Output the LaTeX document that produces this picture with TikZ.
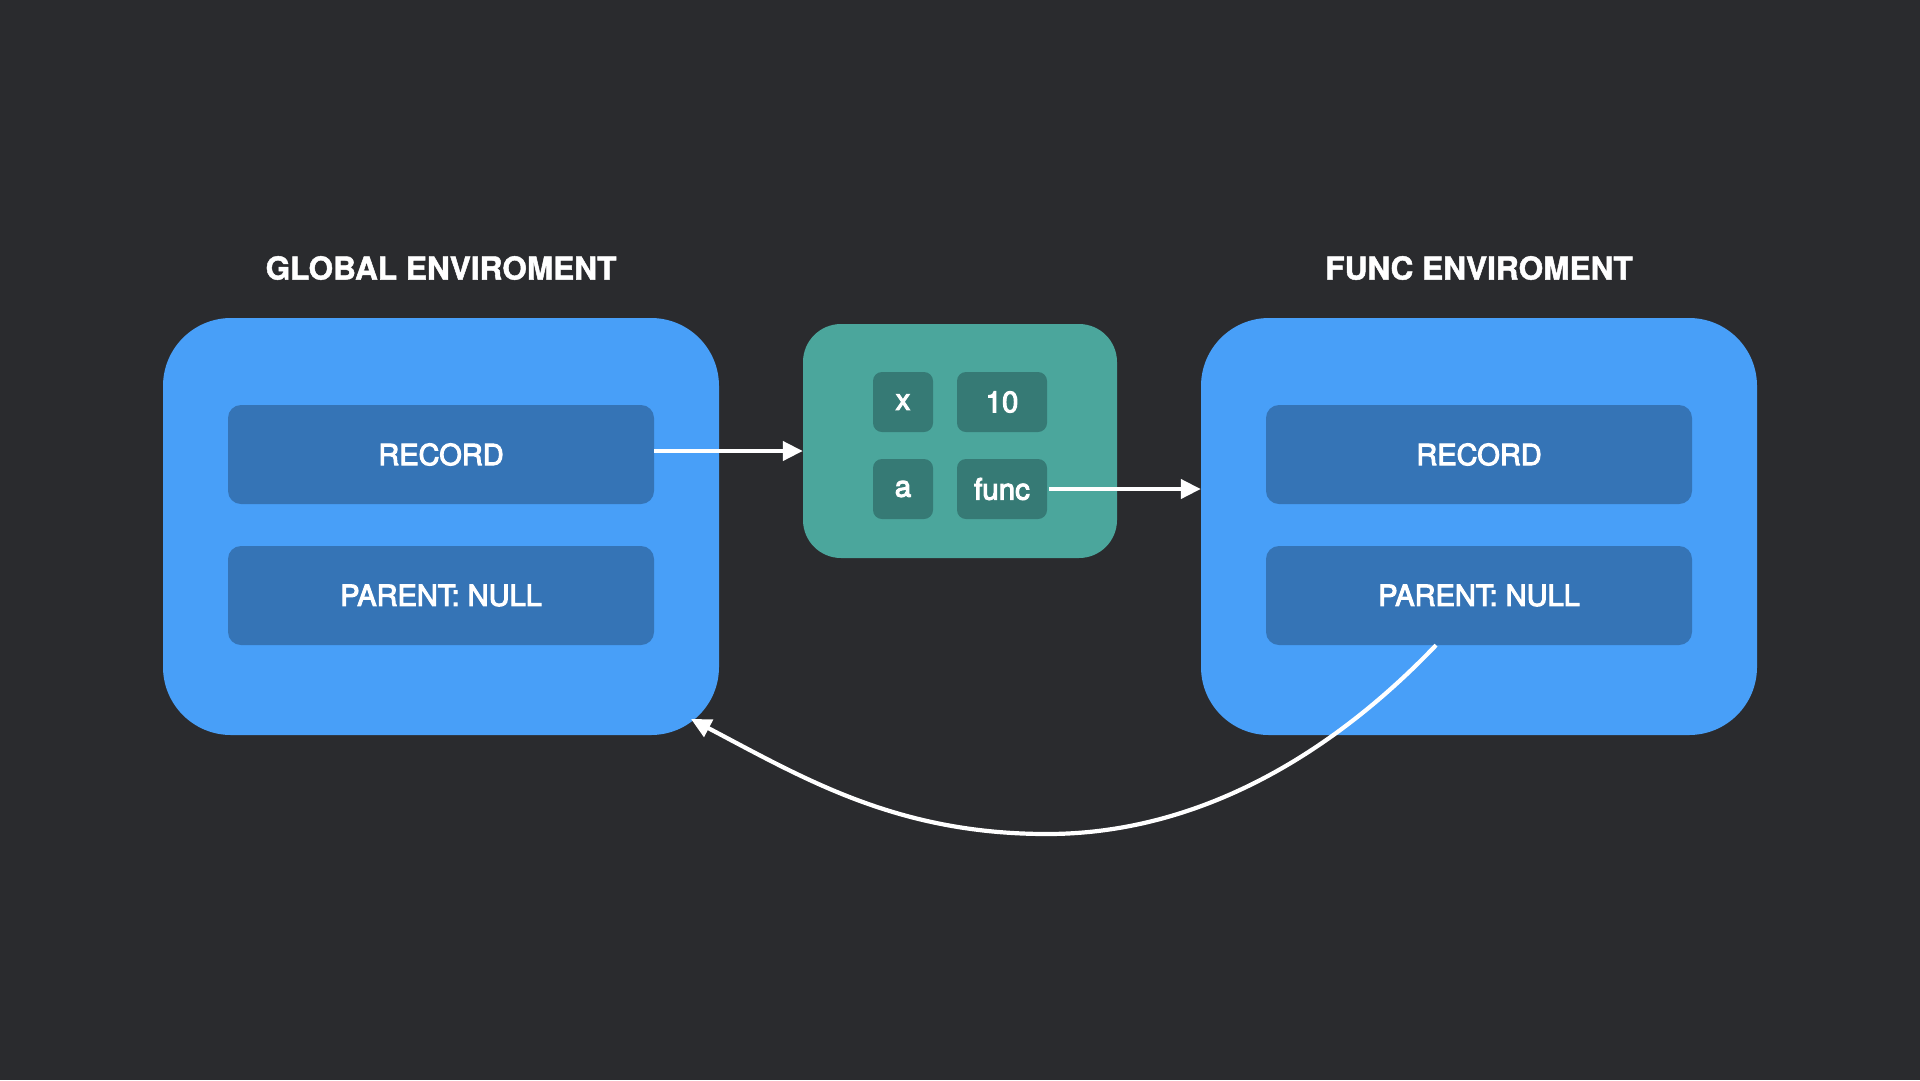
\documentclass[tikz,border=0pt]{standalone}
\usepackage{fontspec}
\setmainfont{TeX Gyre Heros}
\newfontface\medfont[FakeBold=3.5]{TeX Gyre Heros}
\newfontface\heavyfont[FakeBold=1.5]{TeX Gyre Heros Bold}
\usepackage{tikz}
\usepackage{xcolor}
\usetikzlibrary{arrows.meta}

\definecolor{bgdark}{HTML}{2A2B2E}
\definecolor{envblue}{HTML}{489FF8}
\definecolor{slotblue}{HTML}{3574B6}
\definecolor{vartea}{HTML}{4BA69C}
\definecolor{cellteal}{HTML}{367A75}

\begin{document}
\begin{tikzpicture}[x=1pt,y=-1pt,
  env/.style={fill=envblue,rounded corners=68pt,minimum width=556pt,minimum height=417pt},
  slot/.style={fill=slotblue,rounded corners=13pt,minimum width=426pt,minimum height=99pt,
    text=white,font=\medfont\fontsize{29}{34}\selectfont},
  title/.style={text=white,font=\heavyfont\fontsize{31.6}{36}\selectfont},
  cell/.style={fill=cellteal,rounded corners=9pt,minimum height=60pt,
    text=white,font=\medfont\fontsize{29.5}{34}\selectfont},
  link/.style={white,line width=4.2pt,-{Triangle[length=20pt,width=19pt]}}]

\def\gx{441}
\def\fx{1479}

\fill[bgdark] (0,0) rectangle (1920,1080);
\useasboundingbox (0,0) rectangle (1920,1080);

% global environment
\node[title] (gTitle) at (\gx,268) {GLOBAL ENVIROMENT};
\node[env] (gEnv) at (\gx,526.5) {};
\node[slot] (gRec) at (\gx,454.5) {RECORD};
\node[slot] (gPar) at (\gx,595.5) {PARENT: NULL};

% func environment
\node[title] (fTitle) at (\fx,268) {FUNC ENVIROMENT};
\node[env] (fEnv) at (\fx,526.5) {};
\node[slot] (fRec) at (\fx,454.5) {RECORD};
\node[slot] (fPar) at (\fx,595.5) {PARENT: NULL};

% record entries
\node[fill=vartea,rounded corners=38pt,minimum width=314pt,minimum height=234pt] (vars) at (960,441) {};
\node[cell,minimum width=60pt] (xKey) at (903,402) {x};
\node[cell,minimum width=90pt] (xVal) at (1002,402) {10};
\node[cell,minimum width=60pt] (aKey) at (903,489) {a};
\node[cell,minimum width=90pt] (aVal) at (1002,489) {func};

\coordinate (gCorner) at (691,719);

\draw[link] ([yshift=3.5pt]gRec.east) -- ([yshift=3.5pt]gRec.east -| vars.west);
\draw[link] ([xshift=2pt]aVal.east) -- (aVal.east -| fEnv.west);
\draw[link] ([xshift=-43pt]fPar.south) .. controls (1330,756) and (1197,834) .. (1047,834)
  .. controls (897,834) and (805,779) .. (gCorner);

\end{tikzpicture}
\end{document}
